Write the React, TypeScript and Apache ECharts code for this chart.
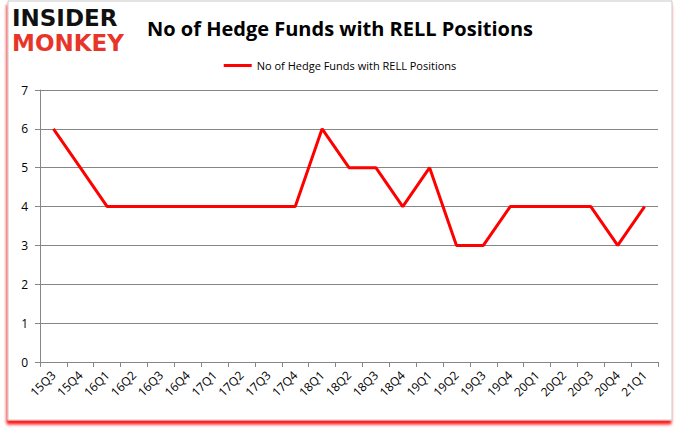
import React, { useEffect, useRef } from "react";
import * as echarts from "echarts";

const categories = ["15Q3","15Q4","16Q1","16Q2","16Q3","16Q4","17Q1","17Q2","17Q3","17Q4","18Q1","18Q2","18Q3","18Q4","19Q1","19Q2","19Q3","19Q4","20Q1","20Q2","20Q3","20Q4","21Q1"];
const hedgeFunds = [6,5,4,4,4,4,4,4,4,4,6,5,5,4,5,3,3,4,4,4,4,3,4];
const seriesName = "No of Hedge Funds with RELL Positions";
const titleText = "No of Hedge Funds with RELL Positions";

export default function App() {
  const ref = useRef<HTMLDivElement>(null);
  useEffect(() => {
    if (!ref.current) return;
    const chart = echarts.init(ref.current, null, { renderer: "svg" });
    chart.setOption({
      animation: false,
      backgroundColor: "#ffffff",
      graphic: [
        {
          type: "rect",
          z: -10,
          shape: { x: 8, y: 1, width: 664, height: 419 },
          style: { fill: "#ffffff", stroke: "#c8c8c8", lineWidth: 1, shadowColor: "rgba(255,0,0,0.9)", shadowBlur: 3, shadowOffsetX: -1, shadowOffsetY: 4 },
        },
        { type: "text", left: 12, top: 6, style: { text: "INSIDER", fontFamily: "DejaVu Sans", fontWeight: 900, fontSize: 23, lineHeight: 23, fill: "#111111" } },
        { type: "text", left: 12, top: 31, style: { text: "MONKEY", fontFamily: "DejaVu Sans", fontWeight: 900, fontSize: 23, lineHeight: 23, fill: "#e8352a" } },
      ],
      title: {
        text: titleText,
        left: "center",
        top: 13,
        textStyle: { fontFamily: "Open Sans", fontWeight: "bold", fontSize: 20, color: "#000000" },
      },
      legend: {
        top: 55,
        left: "center",
        itemWidth: 28,
        itemHeight: 3,
        icon: "rect",
        textStyle: { fontFamily: "Open Sans", fontSize: 11, color: "#000000" },
        data: [seriesName],
      },
      grid: { left: 40, right: 22, top: 90, bottom: 71 },
      xAxis: {
        type: "category",
        data: categories,
        boundaryGap: true,
        axisLine: { lineStyle: { color: "#868686" } },
        axisTick: { show: true, alignWithLabel: false, length: 5, lineStyle: { color: "#868686" } },
        axisLabel: { rotate: 45, fontFamily: "Open Sans", fontSize: 12, color: "#000000", margin: 11, interval: 0 },
      },
      yAxis: {
        type: "value",
        min: 0,
        max: 7,
        interval: 1,
        axisLine: { show: true, lineStyle: { color: "#868686" } },
        axisTick: { show: true, length: 5, lineStyle: { color: "#868686" } },
        axisLabel: { fontFamily: "Open Sans", fontSize: 12, color: "#000000", margin: 12 },
        splitLine: { lineStyle: { color: "#868686" } },
      },
      series: [
        {
          name: seriesName,
          type: "line",
          data: hedgeFunds,
          symbol: "none",
          lineStyle: { color: "#ff0000", width: 3 },
          itemStyle: { color: "#ff0000" },
        },
      ],
    });
    return () => chart.dispose();
  }, []);
  return <div ref={ref} style={{ position: "fixed", left: 0, top: 0, width: 680, height: 433 }} />;
}
